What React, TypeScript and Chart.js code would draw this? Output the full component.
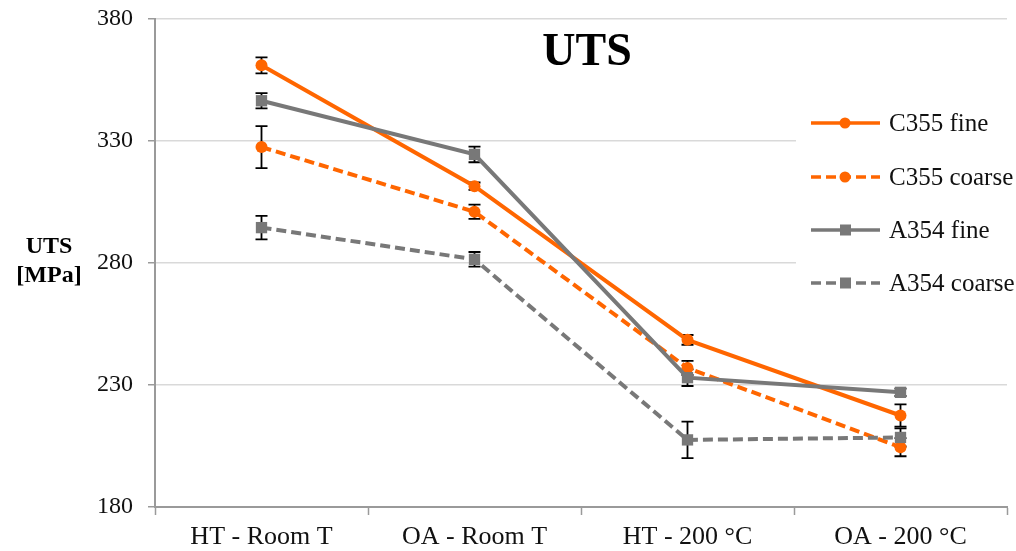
import React, { useEffect, useRef } from "react";
import { Chart, registerables } from "chart.js";

Chart.register(...registerables);

// Test conditions along the x axis
const categories = ["HT - Room T", "OA - Room T", "HT - 200 °C", "OA - 200 °C"];

// Ultimate tensile strength [MPa] and standard deviations
const c355Fine = [361, 311.5, 248.5, 217.5];
const c355FineErr = [3.3, 1.5, 2, 4.6];
const c355Coarse = [327.5, 301, 237, 204.5];
const c355CoarseErr = [8.6, 2.9, 2.9, 3.7];
const a354Fine = [346.5, 324.5, 233, 227];
const a354FineErr = [3.1, 3.2, 3.4, 1.5];
const a354Coarse = [294.5, 281.5, 207.5, 208.5];
const a354CoarseErr = [4.8, 3.0, 7.5, 3.7];

const seriesNames = ["C355 fine", "C355 coarse", "A354 fine", "A354 coarse"];
const yTicks = [180, 230, 280, 330, 380];

const ORANGE = "#FF6600";
const GREY = "#787878";
const AXIS = "#9a9a9a";
const GRID = "#d9d9d9";
const FONT = "'Liberation Serif', 'Times New Roman', serif";
const DASH = [10, 5];

// Vertical error bars with caps, drawn under the markers
const errorBars = {
  id: "errorBars",
  beforeDatasetsDraw(chart: any) {
    const ctx = chart.ctx;
    const y = chart.scales.y;
    ctx.save();
    ctx.strokeStyle = "#000";
    ctx.lineWidth = 1.8;
    chart.data.datasets.forEach((ds: any, i: number) => {
      const meta = chart.getDatasetMeta(i);
      meta.data.forEach((pt: any, j: number) => {
        const v = ds.data[j];
        const e = ds.errors[j];
        const top = y.getPixelForValue(v + e);
        const bot = y.getPixelForValue(v - e);
        const x = pt.x;
        ctx.beginPath();
        ctx.moveTo(x, top);
        ctx.lineTo(x, bot);
        ctx.moveTo(x - 6, top);
        ctx.lineTo(x + 6, top);
        ctx.moveTo(x - 6, bot);
        ctx.lineTo(x + 6, bot);
        ctx.stroke();
      });
    });
    ctx.restore();
  },
};

// Chart title, y-axis caption and the line-style legend
const annotations = {
  id: "annotations",
  afterDraw(chart: any) {
    const ctx = chart.ctx;
    ctx.save();
    ctx.fillStyle = "#000";
    ctx.textAlign = "center";
    ctx.textBaseline = "alphabetic";
    ctx.font = `bold 46px ${FONT}`;
    ctx.fillText("UTS", 587, 65);

    ctx.font = `bold 24px ${FONT}`;
    ctx.textBaseline = "middle";
    ctx.fillText("UTS", 49, 247);
    ctx.fillText("[MPa]", 49, 276);

    // legend
    ctx.fillStyle = "#fff";
    ctx.fillRect(796, 100, 220, 205);
    const rows = [123, 177, 230, 283];
    chart.data.datasets.forEach((ds: any, i: number) => {
      const yy = rows[i];
      ctx.strokeStyle = ds.borderColor;
      ctx.lineWidth = 3.5;
      ctx.setLineDash(ds.borderDash || []);
      ctx.beginPath();
      ctx.moveTo(811, yy);
      ctx.lineTo(880, yy);
      ctx.stroke();
      ctx.setLineDash([]);
      ctx.fillStyle = ds.pointBackgroundColor;
      if (ds.pointStyle === "rect") {
        ctx.fillRect(840, yy - 5.5, 11, 11);
      } else {
        ctx.beginPath();
        ctx.arc(845, yy, 5.5, 0, Math.PI * 2);
        ctx.fill();
      }
      ctx.fillStyle = "#111";
      ctx.textAlign = "left";
      ctx.font = `25px ${FONT}`;
      ctx.fillText(ds.label, 889, yy + 1);
    });
    ctx.restore();
  },
};

export default function App() {
  const ref = useRef<HTMLCanvasElement | null>(null);

  useEffect(() => {
    document.body.style.margin = "0";
    const canvas = ref.current;
    if (!canvas) return;
    const mk = (
      label: string,
      data: number[],
      errors: number[],
      color: string,
      style: string,
      dashed: boolean,
      order: number
    ) => ({
      label,
      data,
      errors,
      borderColor: color,
      backgroundColor: color,
      pointBackgroundColor: color,
      pointBorderColor: color,
      pointStyle: style,
      pointRadius: style === "rect" ? 8 : 6,
      pointBorderWidth: 0,
      borderWidth: 4,
      borderDash: dashed ? DASH : [],
      tension: 0,
      order,
    });

    const chart = new Chart(canvas, {
      type: "line",
      data: {
        labels: categories,
        datasets: [
          mk(seriesNames[0], c355Fine, c355FineErr, ORANGE, "circle", false, 3),
          mk(seriesNames[1], c355Coarse, c355CoarseErr, ORANGE, "circle", true, 2),
          mk(seriesNames[2], a354Fine, a354FineErr, GREY, "rect", false, 1),
          mk(seriesNames[3], a354Coarse, a354CoarseErr, GREY, "rect", true, 0),
        ] as any,
      },
      options: {
        animation: false,
        responsive: true,
        maintainAspectRatio: false,
        layout: { padding: { left: 0, right: 9, top: 19, bottom: 0 } },
        plugins: {
          legend: { display: false },
          title: { display: false },
          tooltip: { enabled: false },
        },
        scales: {
          x: {
            type: "category",
            offset: true,
            grid: {
              offset: true,
              drawOnChartArea: false,
              drawTicks: true,
              tickLength: 8,
              tickColor: AXIS,
              tickWidth: 1.5,
            },
            border: { color: AXIS, width: 2 },
            ticks: {
              color: "#111",
              font: { family: FONT, size: 26 },
              padding: 7,
              maxRotation: 0,
            },
            afterFit(scale: any) {
              scale.height = 44;
              scale.paddingLeft = 0;
              scale.paddingRight = 0;
            },
          },
          y: {
            min: 180,
            max: 380,
            afterBuildTicks(scale: any) {
              scale.ticks = yTicks.map((v) => ({ value: v }));
            },
            grid: {
              color: GRID,
              lineWidth: 1.5,
              tickLength: 7,
              tickColor: AXIS,
              tickWidth: 1.5,
            },
            border: { color: AXIS, width: 2 },
            ticks: {
              color: "#111",
              font: { family: FONT, size: 24 },
              padding: 15,
            },
            afterFit(scale: any) {
              scale.width = 155;
              scale.paddingTop = 0;
              scale.paddingBottom = 0;
            },
          },
        },
      },
      plugins: [errorBars, annotations],
    });
    return () => chart.destroy();
  }, []);

  return (
    <div style={{ position: "relative", width: 1016, height: 551 }}>
      <canvas ref={ref} />
    </div>
  );
}
